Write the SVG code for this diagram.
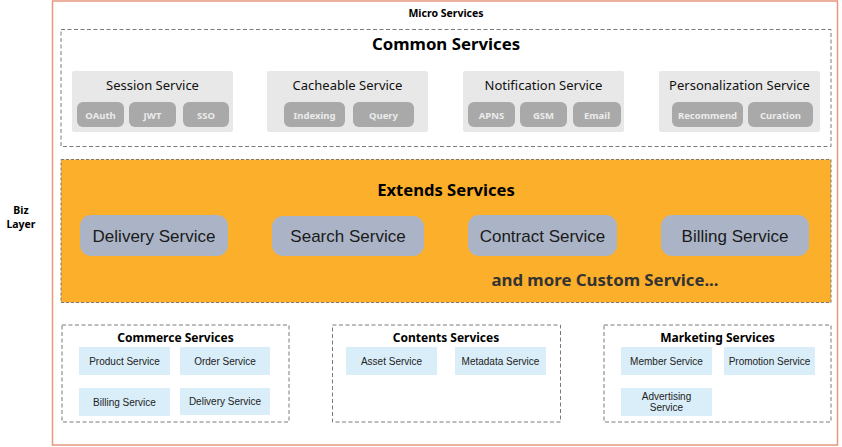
<svg xmlns="http://www.w3.org/2000/svg" width="842" height="447" viewBox="0 0 842 447">
<style>
.title{font-family:"Noto Sans","Liberation Sans",sans-serif;font-weight:bold;fill:#000;text-anchor:middle}
.grp{fill:none;stroke:#7a7a7a;stroke-width:1;stroke-dasharray:4 2.5}
.cbox{fill:#e8e8e8}
.ctitle{font-family:"Noto Sans","Liberation Sans",sans-serif;font-size:13px;fill:#111;text-anchor:middle}
.pill{fill:#a9a9a9}
.ptxt{font-family:"Noto Sans","Liberation Sans",sans-serif;font-size:9.5px;font-weight:bold;fill:#ececec;text-anchor:middle}
.ext{fill:#aab4c6}
.etxt{font-family:"Liberation Sans",Arial,sans-serif;font-size:17px;fill:#1a1a1a;text-anchor:middle}
.lb{fill:#d9eef9}
.ltxt{font-family:"Liberation Sans",Arial,sans-serif;font-size:10px;fill:#222;text-anchor:middle}
</style>
<rect width="842" height="447" fill="#fff"/>
<g id="micro-services">
<rect x="52.5" y="1" width="785" height="444" fill="none" stroke="#e9967f" stroke-width="1.5"/>
<text class="title" x="446" y="17" font-size="10.5">Micro Services</text>
</g>
<g id="biz-layer">
<text class="title" x="21" y="214" font-size="10.5">Biz</text>
<text class="title" x="21" y="228" font-size="10.5">Layer</text>
</g>
<g id="common-services">
<rect class="grp" x="61" y="29.5" width="770" height="117"/>
<text class="title" x="446" y="50" font-size="16.8">Common Services</text>
</g>
<g id="session-service">
<rect class="cbox" x="72" y="71" width="161" height="61" rx="2"/>
<text class="ctitle" x="152.5" y="90">Session Service</text>
<rect class="pill" x="77" y="102" width="47" height="25" rx="6"/>
<text class="ptxt" x="100.5" y="118.5">OAuth</text>
<rect class="pill" x="129" y="102" width="47" height="25" rx="6"/>
<text class="ptxt" x="152.5" y="118.5">JWT</text>
<rect class="pill" x="183" y="102" width="46" height="25" rx="6"/>
<text class="ptxt" x="206" y="118.5">SSO</text>
</g>
<g id="cacheable-service">
<rect class="cbox" x="267" y="71" width="161" height="61" rx="2"/>
<text class="ctitle" x="347.5" y="90">Cacheable Service</text>
<rect class="pill" x="284" y="102" width="61" height="25" rx="6"/>
<text class="ptxt" x="314.5" y="118.5">Indexing</text>
<rect class="pill" x="353" y="102" width="61" height="25" rx="6"/>
<text class="ptxt" x="383.5" y="118.5">Query</text>
</g>
<g id="notification-service">
<rect class="cbox" x="463" y="71" width="161" height="61" rx="2"/>
<text class="ctitle" x="543.5" y="90">Notification Service</text>
<rect class="pill" x="468" y="102" width="47" height="25" rx="6"/>
<text class="ptxt" x="491.5" y="118.5">APNS</text>
<rect class="pill" x="520" y="102" width="47" height="25" rx="6"/>
<text class="ptxt" x="543.5" y="118.5">GSM</text>
<rect class="pill" x="573" y="102" width="48" height="25" rx="6"/>
<text class="ptxt" x="597" y="118.5">Email</text>
</g>
<g id="personalization-service">
<rect class="cbox" x="659" y="71" width="161" height="61" rx="2"/>
<text class="ctitle" x="739.5" y="90">Personalization Service</text>
<rect class="pill" x="672" y="102" width="71" height="25" rx="6"/>
<text class="ptxt" x="707.5" y="118.5">Recommend</text>
<rect class="pill" x="748" y="102" width="65" height="25" rx="6"/>
<text class="ptxt" x="780.5" y="118.5">Curation</text>
</g>
<g id="extends-services">
<rect x="61" y="159.5" width="770" height="143" fill="#fcaf2a" stroke="#7a7a7a" stroke-dasharray="3 2"/>
<text class="title" x="446" y="196" font-size="16.6">Extends Services</text>
<text class="title" x="605" y="286" font-size="16.8" style="fill:#333">and more Custom Service...</text>
</g>
<g id="delivery-service">
<rect class="ext" x="80" y="215" width="148" height="41" rx="11"/>
<text class="etxt" x="154" y="242">Delivery Service</text>
</g>
<g id="search-service">
<rect class="ext" x="272" y="216" width="152" height="40" rx="11"/>
<text class="etxt" x="348" y="242">Search Service</text>
</g>
<g id="contract-service">
<rect class="ext" x="468" y="215" width="149" height="41" rx="11"/>
<text class="etxt" x="542.5" y="242">Contract Service</text>
</g>
<g id="billing-service">
<rect class="ext" x="661" y="215" width="148" height="41" rx="11"/>
<text class="etxt" x="735" y="242">Billing Service</text>
</g>
<g id="commerce-services">
<rect class="grp" x="62" y="325" width="227" height="97"/>
<text class="title" x="175.5" y="342" font-size="12">Commerce Services</text>
<rect class="lb" x="79" y="347" width="91" height="28"/>
<text class="ltxt" x="124.5" y="365">Product Service</text>
<rect class="lb" x="180" y="347" width="90" height="28"/>
<text class="ltxt" x="225" y="365">Order Service</text>
<rect class="lb" x="79" y="388" width="91" height="28"/>
<text class="ltxt" x="124.5" y="406">Billing Service</text>
<rect class="lb" x="180" y="388" width="90" height="27"/>
<text class="ltxt" x="225" y="405">Delivery Service</text>
</g>
<g id="contents-services">
<rect class="grp" x="332.5" y="325" width="228" height="97"/>
<text class="title" x="446" y="342" font-size="12">Contents Services</text>
<rect class="lb" x="346" y="347" width="91" height="28"/>
<text class="ltxt" x="391.5" y="365">Asset Service</text>
<rect class="lb" x="455" y="347" width="91" height="28"/>
<text class="ltxt" x="500.5" y="365">Metadata Service</text>
</g>
<g id="marketing-services">
<rect class="grp" x="604" y="325" width="227" height="97"/>
<text class="title" x="717.5" y="342" font-size="12">Marketing Services</text>
<rect class="lb" x="621" y="347" width="91" height="28"/>
<text class="ltxt" x="666.5" y="365">Member Service</text>
<rect class="lb" x="724" y="347" width="91" height="28"/>
<text class="ltxt" x="769.5" y="365">Promotion Service</text>
<rect class="lb" x="621" y="388" width="91" height="28"/>
<text class="ltxt" x="666.5" y="400">Advertising</text>
<text class="ltxt" x="666.5" y="411">Service</text>
</g>
</svg>
